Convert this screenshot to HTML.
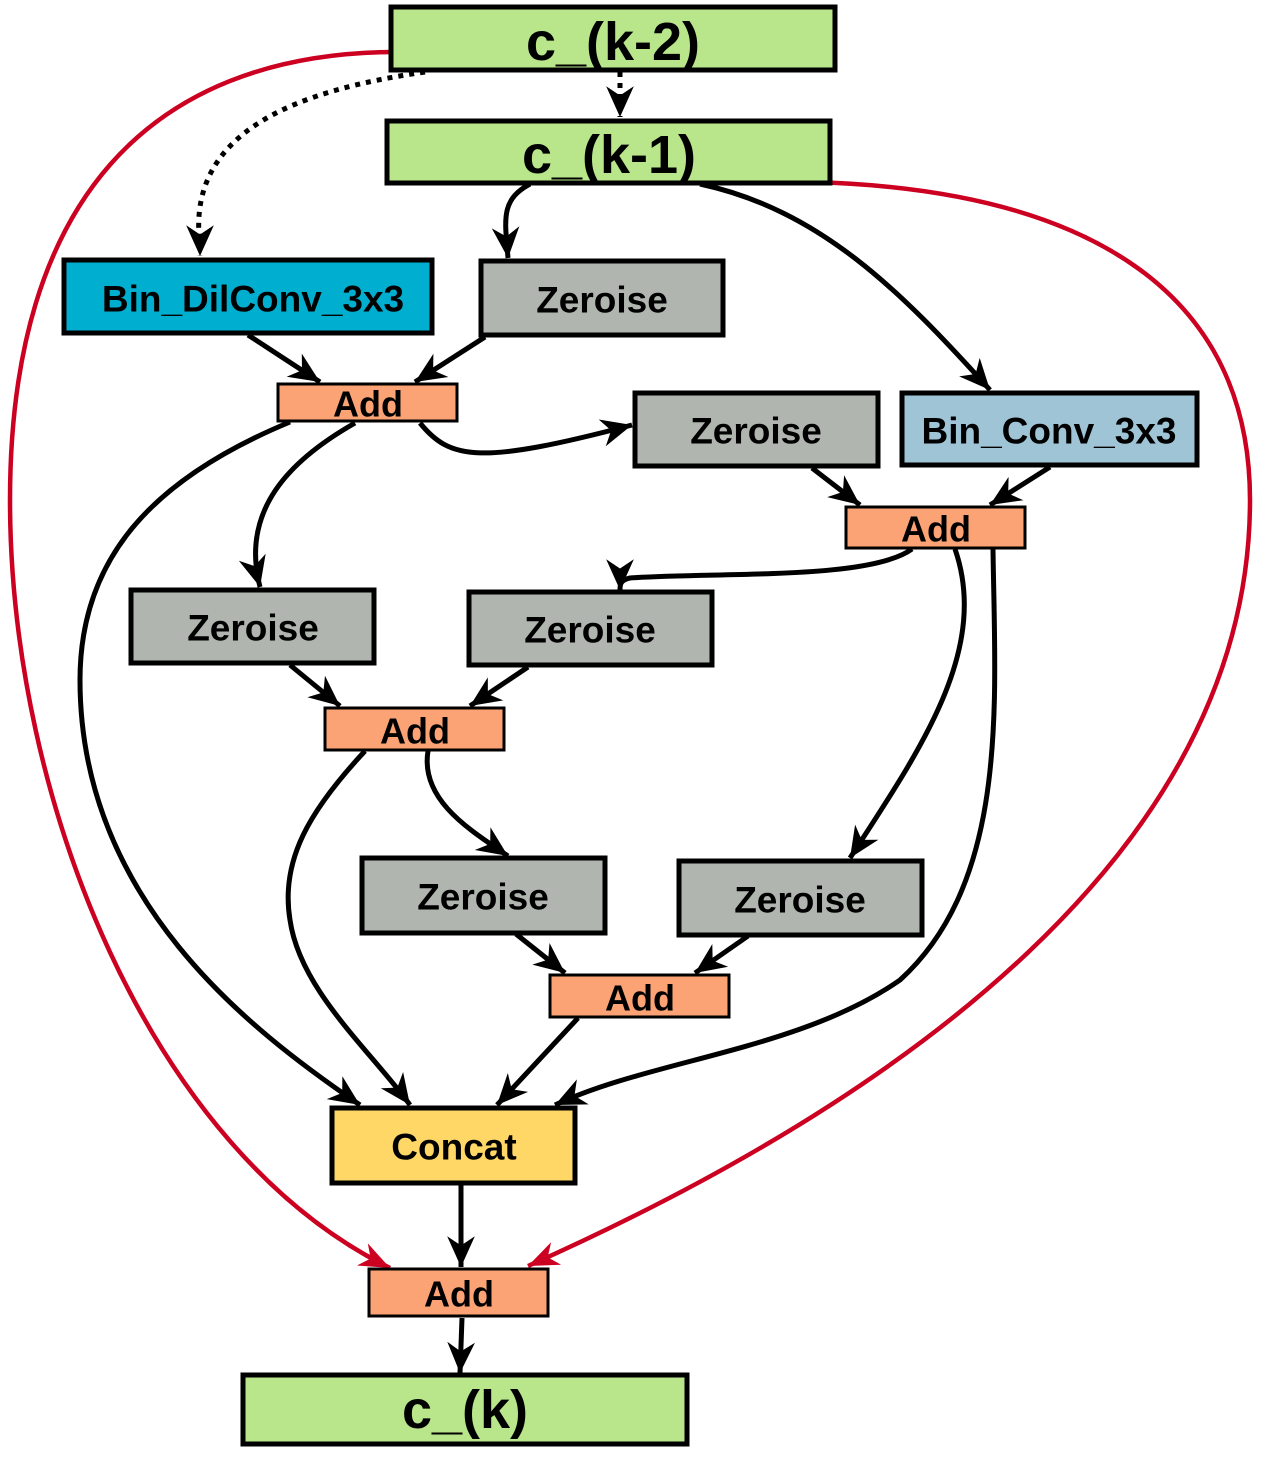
<!DOCTYPE html>
<html><head><meta charset="utf-8"><style>
html,body{margin:0;padding:0;background:#fff;}
svg{display:block;}
text{font-family:"Liberation Sans",sans-serif;font-weight:bold;text-anchor:middle;dominant-baseline:central;fill:#000;}
</style></head><body>
<svg width="1264" height="1459" viewBox="0 0 1264 1459" xmlns="http://www.w3.org/2000/svg">
<defs>
<marker id="a" markerUnits="userSpaceOnUse" markerWidth="40" markerHeight="40" viewBox="-2 -10 26 20" refX="20" refY="0" orient="auto">
<path d="M0,-9 L20,0 L0,9 L6,0 Z" fill="#000"/>
</marker>
<marker id="r" markerUnits="userSpaceOnUse" markerWidth="40" markerHeight="40" viewBox="-2 -10 26 20" refX="20" refY="0" orient="auto">
<path d="M0,-8 L20,0 L0,8 L6,0 Z" fill="#cc0020"/>
</marker>
</defs>
<g fill="none" stroke="#cc0020" stroke-width="4.5">
<path d="M391,52 C150,55 10,200 10,500 C10,800 150,1150 390,1268" marker-end="url(#r)"/>
<path d="M812,182 C1100,190 1250,300 1250,500 C1250,850 900,1100 528,1266" marker-end="url(#r)"/>
</g>
<g fill="none" stroke="#000" stroke-width="5">
<path d="M425,72 C300,90 185,130 200,245 L200,256" stroke-dasharray="5,6" marker-end="url(#a)"/>
<path d="M620,72 L620,117" stroke-dasharray="5,6" marker-end="url(#a)"/>
<path d="M530,184 C500,200 505,220 508,258" marker-end="url(#a)"/>
<path d="M700,184 C820,210 900,290 990,390" marker-end="url(#a)"/>
<path d="M248,335 L320,382" marker-end="url(#a)"/>
<path d="M485,337 L415,382" marker-end="url(#a)"/>
<path d="M420,423 C450,460 480,465 632,425" marker-end="url(#a)"/>
<path d="M290,422 C150,480 80,560 80,680 C80,900 250,1030 360,1105" marker-end="url(#a)"/>
<path d="M355,423 C290,460 240,510 260,587" marker-end="url(#a)"/>
<path d="M812,468 L860,505" marker-end="url(#a)"/>
<path d="M1050,467 L990,505" marker-end="url(#a)"/>
<path d="M912,549 C870,580 720,572 630,578 C620,580 620,585 620,590" marker-end="url(#a)"/>
<path d="M955,549 C990,650 920,750 850,858" marker-end="url(#a)"/>
<path d="M993,549 C995,700 1010,880 900,980 C800,1050 650,1060 555,1105" marker-end="url(#a)"/>
<path d="M290,665 L340,706" marker-end="url(#a)"/>
<path d="M528,667 L470,706" marker-end="url(#a)"/>
<path d="M365,751 C310,810 280,860 290,920 C300,990 370,1050 410,1105" marker-end="url(#a)"/>
<path d="M428,751 C420,800 470,830 508,856" marker-end="url(#a)"/>
<path d="M516,934 L565,973" marker-end="url(#a)"/>
<path d="M748,936 L695,973" marker-end="url(#a)"/>
<path d="M578,1018 L497,1105" marker-end="url(#a)"/>
<path d="M461,1183 L461,1267" marker-end="url(#a)"/>
<path d="M462,1318 L460,1373" marker-end="url(#a)"/>
</g>
<g stroke="#000" stroke-width="5">
<rect x="391" y="7" width="444" height="63" fill="#b9e68a"/>
<rect x="387" y="121" width="443" height="62" fill="#b9e68a"/>
<rect x="64" y="260" width="368" height="73" fill="#00afd0"/>
<rect x="481" y="261" width="242" height="74" fill="#b0b5b0"/>
<rect x="278" y="384" width="179" height="37" fill="#fca375" stroke-width="3"/>
<rect x="635" y="393" width="243" height="73" fill="#b0b5b0"/>
<rect x="902" y="393" width="295" height="72" fill="#9fc4d6"/>
<rect x="846" y="507" width="179" height="41" fill="#fca375" stroke-width="3"/>
<rect x="131" y="590" width="243" height="73" fill="#b0b5b0"/>
<rect x="469" y="592" width="243" height="73" fill="#b0b5b0"/>
<rect x="325" y="708" width="179" height="42" fill="#fca375" stroke-width="3"/>
<rect x="362" y="858" width="243" height="75" fill="#b0b5b0"/>
<rect x="679" y="861" width="243" height="74" fill="#b0b5b0"/>
<rect x="550" y="975" width="179" height="42" fill="#fca375" stroke-width="3"/>
<rect x="332" y="1108" width="243" height="75" fill="#fed766"/>
<rect x="369" y="1269" width="179" height="47" fill="#fca375" stroke-width="3"/>
<rect x="243" y="1375" width="444" height="69" fill="#b9e68a"/>
</g>
<text x="613" y="42" font-size="54">c_(k-2)</text>
<text x="609" y="155" font-size="54">c_(k-1)</text>
<text x="253" y="299" font-size="37">Bin_DilConv_3x3</text>
<text x="602" y="300" font-size="37">Zeroise</text>
<text x="368" y="404" font-size="36">Add</text>
<text x="756" y="431" font-size="37">Zeroise</text>
<text x="1049" y="431" font-size="37">Bin_Conv_3x3</text>
<text x="936" y="529" font-size="36">Add</text>
<text x="253" y="628" font-size="37">Zeroise</text>
<text x="590" y="630" font-size="37">Zeroise</text>
<text x="415" y="731" font-size="36">Add</text>
<text x="483" y="897" font-size="37">Zeroise</text>
<text x="800" y="900" font-size="37">Zeroise</text>
<text x="640" y="998" font-size="36">Add</text>
<text x="454" y="1147" font-size="37">Concat</text>
<text x="459" y="1294" font-size="36">Add</text>
<text x="465" y="1410" font-size="54">c_(k)</text>
</svg>
</body></html>
